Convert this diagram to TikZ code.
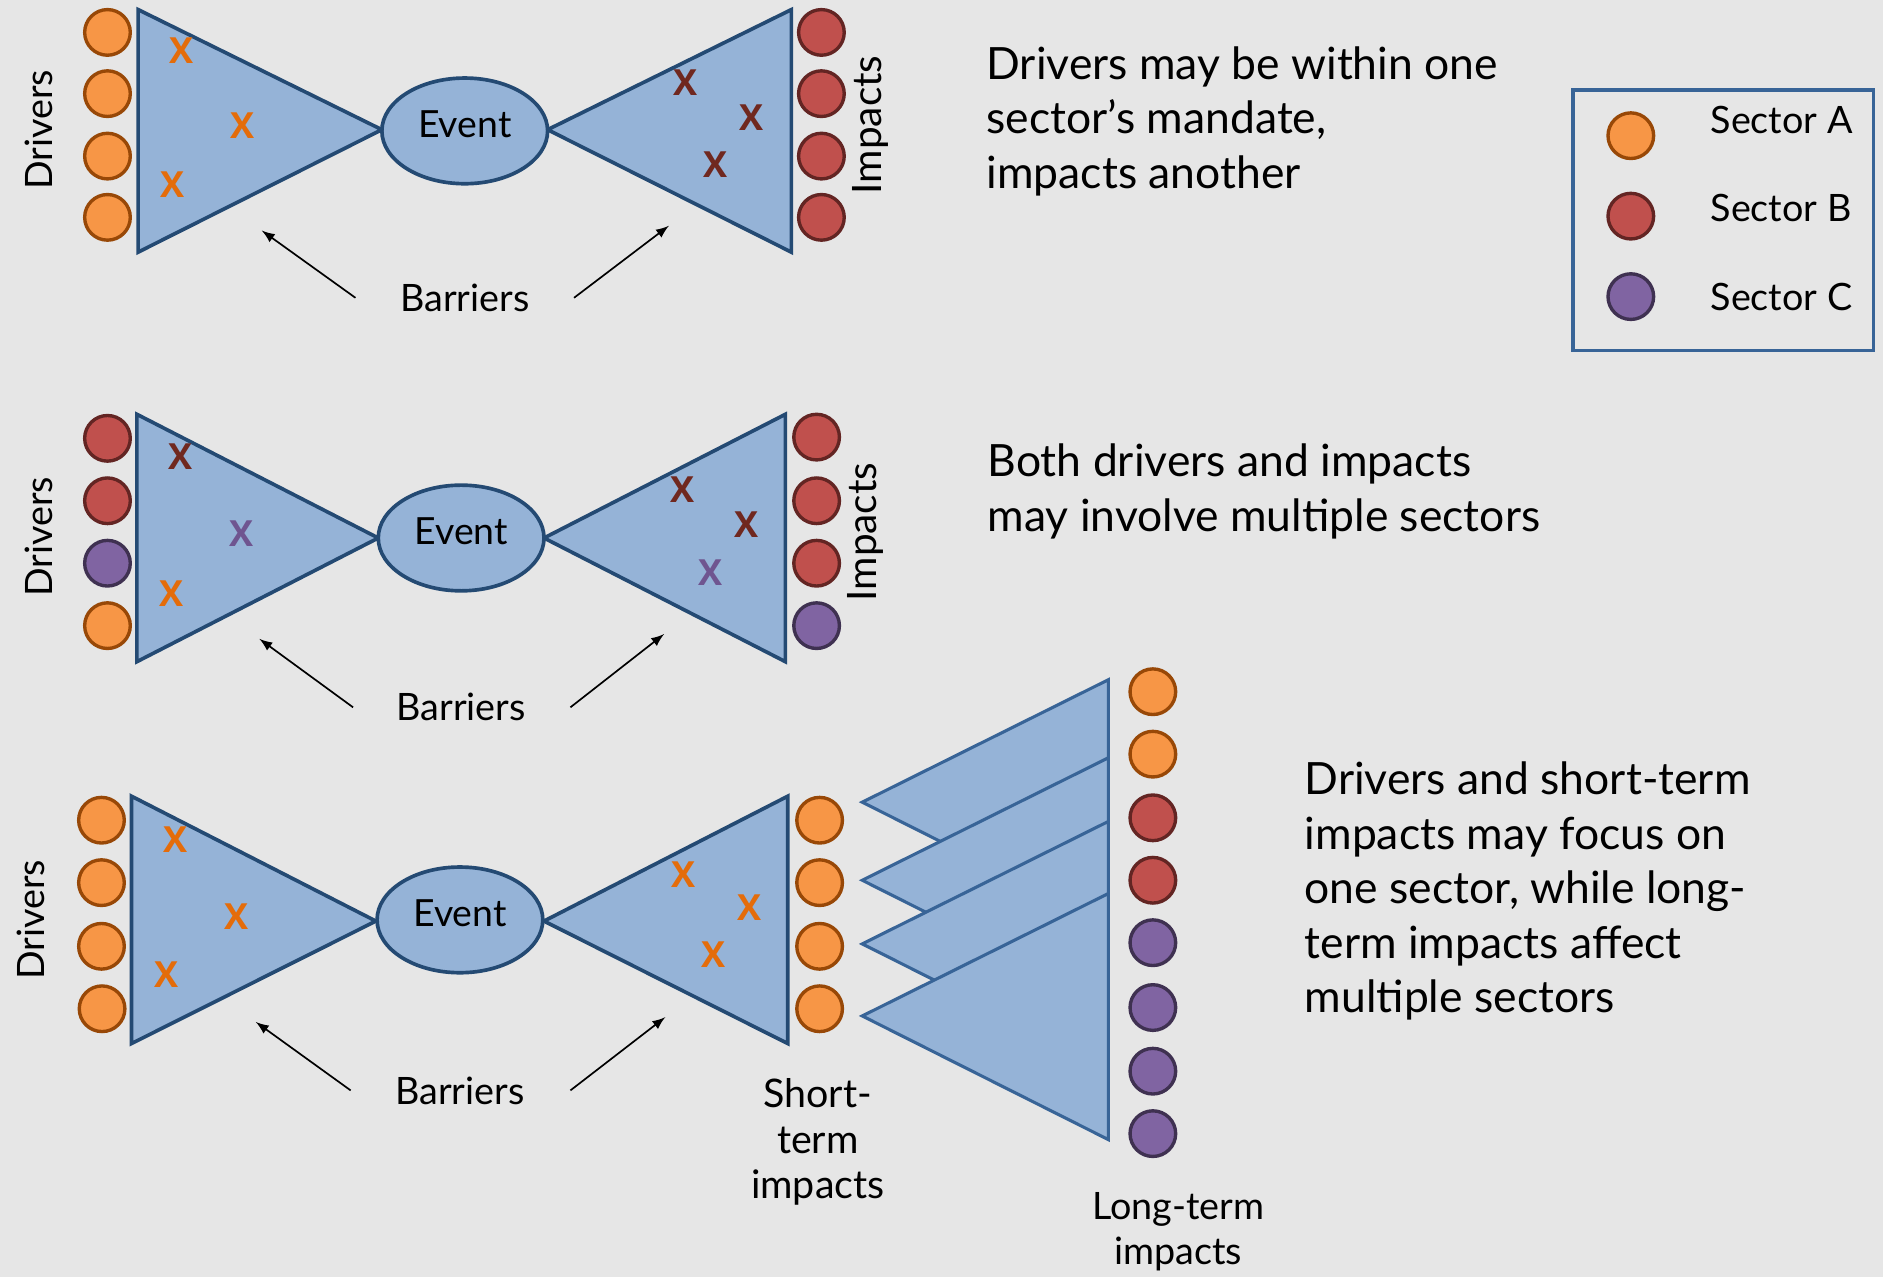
\documentclass[tikz,border=0pt]{standalone}
\usepackage{fontspec}
\setmainfont{Lato}
\newfontfamily\xfont{Open Sans}
\usetikzlibrary{shapes.geometric}
\definecolor{bgcol}{HTML}{E6E6E6}
\definecolor{wedgefill}{HTML}{95B3D7}
\definecolor{wedgeline}{HTML}{244A73}
\definecolor{longline}{HTML}{386497}
\definecolor{fillA}{HTML}{F79646}
\definecolor{lineA}{HTML}{984807}
\definecolor{fillB}{HTML}{C0504D}
\definecolor{lineB}{HTML}{632523}
\definecolor{fillC}{HTML}{8064A2}
\definecolor{lineC}{HTML}{3F3151}
\definecolor{markA}{HTML}{E46C0A}
\definecolor{markB}{HTML}{70281F}
\definecolor{markC}{HTML}{6F5590}
\tikzset{
  wedge/.style={draw=wedgeline, fill=wedgefill, line width=1.3pt, line join=miter},
  longwedge/.style={draw=longline, fill=wedgefill, line width=1.1pt, line join=miter},
  event/.style={ellipse, draw=wedgeline, fill=wedgefill, line width=1.3pt, minimum width=2.07cm, minimum height=1.32cm, inner sep=0pt, text depth=0.18cm, font=\fontsize{13.3}{15}\selectfont},
  dot/.style={circle, minimum size=0.57cm, inner sep=0pt, line width=1.2pt},
  dotA/.style={dot, draw=lineA, fill=fillA},
  dotB/.style={dot, draw=lineB, fill=fillB},
  dotC/.style={dot, draw=lineC, fill=fillC},
  xmark/.style={font=\xfont\fontsize{12.8}{15}\bfseries\selectfont, inner sep=0pt},
  label/.style={font=\fontsize{13.4}{16}\selectfont, inner sep=0pt},
  side/.style={label, rotate=90},
  note/.style={font=\fontsize{15.8}{19.4}\selectfont, align=left, anchor=west, inner sep=0pt},
  barrow/.style={-latex, line width=0.6pt, black},
}
\begin{document}
\begin{tikzpicture}[x=0.015cm, y=-0.015cm]
  \fill[bgcol] (0,0) rectangle (1568,1063);
  \useasboundingbox (0,0) rectangle (1568,1063);

  % first bow tie
  \draw[wedge] (115,8) -- (318,108) -- (115,210) -- cycle;
  \draw[wedge] (659,8) -- (456,108) -- (659,210) -- cycle;
  \node[event] (eventone) at (387,109) {Event};
  \node[dotA] (oned1) at (89.5,27) {};
  \node[dotA] (oned2) at (89.5,78) {};
  \node[dotA] (oned3) at (89.5,130) {};
  \node[dotA] (oned4) at (89.5,181) {};
  \node[dotB] (onei1) at (684,27) {};
  \node[dotB] (onei2) at (684,78) {};
  \node[dotB] (onei3) at (684,130) {};
  \node[dotB] (onei4) at (684,181) {};
  \node[side] (onedrivers) at (32,108) {Drivers};
  \node[side, font=\fontsize{14.4}{16}\selectfont] (oneimpacts) at (725,104) {Impacts};
  \node[xmark, markA] (onex1) at (151,42) {X};
  \node[xmark, markA] (onex2) at (202,105) {X};
  \node[xmark, markA] (onex3) at (144,154) {X};
  \node[xmark, markB] (onex4) at (571,69) {X};
  \node[xmark, markB] (onex5) at (626,98) {X};
  \node[xmark, markB] (onex6) at (596,137) {X};
  \node[label] (onebarriers) at (387,248) {Barriers};
  \coordinate (onea) at (296,248);
  \coordinate (oneb) at (218,192);
  \coordinate (onec) at (478,248);
  \coordinate (oned) at (557,188);
  \draw[barrow] (onea) -- (oneb);
  \draw[barrow] (onec) -- (oned);
  \node[note] (onetext) at (821,101) {Drivers may be within one\\sector’s mandate,\\impacts another};

  % legend
  \node[draw=longline, line width=1.3pt, minimum width=3.75cm, minimum height=3.255cm, inner sep=0pt] (legend) at (1435,183.5) {};
  \node[dotA] (lega) at (1358,113) {};
  \node[dotB] (legb) at (1358,180) {};
  \node[dotC] (legc) at (1358,247) {};
  \node[label, anchor=west] (legatext) at (1424,100) {Sector A};
  \node[label, anchor=west] (legbtext) at (1424,173) {Sector B};
  \node[label, anchor=west] (legctext) at (1424,247) {Sector C};

  % second bow tie
  \draw[wedge] (114,345) -- (315,448) -- (114,551) -- cycle;
  \draw[wedge] (654,345) -- (453,448) -- (654,551) -- cycle;
  \node[event] (eventtwo) at (384,448) {Event};
  \node[dotB] (twod1) at (89.5,365) {};
  \node[dotB] (twod2) at (89.5,417) {};
  \node[dotC] (twod3) at (89.5,469) {};
  \node[dotA] (twod4) at (89.5,521) {};
  \node[dotB] (twoi1) at (680,364) {};
  \node[dotB] (twoi2) at (680,417) {};
  \node[dotB] (twoi3) at (680,469) {};
  \node[dotC] (twoi4) at (680,521) {};
  \node[side] (twodrivers) at (32,447) {Drivers};
  \node[side, font=\fontsize{14.4}{16}\selectfont] (twoimpacts) at (721,443) {Impacts};
  \node[xmark, markB] (twox1) at (150,380) {X};
  \node[xmark, markC] (twox2) at (201,444) {X};
  \node[xmark, markA] (twox3) at (143,494) {X};
  \node[xmark, markB] (twox4) at (568,408) {X};
  \node[xmark, markB] (twox5) at (622,437) {X};
  \node[xmark, markC] (twox6) at (592,477) {X};
  \node[label] (twobarriers) at (384,589) {Barriers};
  \coordinate (twoa) at (294,589);
  \coordinate (twob) at (216,532);
  \coordinate (twoc) at (475,589);
  \coordinate (twod) at (553,528);
  \draw[barrow] (twoa) -- (twob);
  \draw[barrow] (twoc) -- (twod);
  \node[note] (twotext) at (822,409) {Both drivers and impacts\\may involve multiple sectors};

  % third bow tie
  \draw[wedge] (109.5,663) -- (313,767) -- (109.5,869) -- cycle;
  \draw[wedge] (656,663) -- (453,767) -- (656,869) -- cycle;
  \node[event] (eventthree) at (383,766) {Event};
  \node[dotA] (threed1) at (84.5,683) {};
  \node[dotA] (threed2) at (84.5,735) {};
  \node[dotA] (threed3) at (84.5,788) {};
  \node[dotA] (threed4) at (85,840) {};
  \node[dotA] (threei1) at (682.5,683) {};
  \node[dotA] (threei2) at (682.5,735) {};
  \node[dotA] (threei3) at (682.5,788) {};
  \node[dotA] (threei4) at (682.5,840) {};
  \node[side] (threedrivers) at (26,766) {Drivers};
  \node[xmark, markA] (threex1) at (146,699) {X};
  \node[xmark, markA] (threex2) at (197,763) {X};
  \node[xmark, markA] (threex3) at (139,812) {X};
  \node[xmark, markA] (threex4) at (569,728) {X};
  \node[xmark, markA] (threex5) at (624,756) {X};
  \node[xmark, markA] (threex6) at (594,795) {X};
  \node[label] (threebarriers) at (383,908) {Barriers};
  \coordinate (threea) at (292,908);
  \coordinate (threeb) at (213,851);
  \coordinate (threec) at (475,908);
  \coordinate (threed) at (554,847);
  \draw[barrow] (threea) -- (threeb);
  \draw[barrow] (threec) -- (threed);
  \node[label, align=center, font=\fontsize{14}{16.2}\selectfont] (shortlabel) at (681,951) {Short-\\term\\impacts};

  % long-term wedges, later ones sit on top
  \draw[longwedge] (923,566) -- (718,668) -- (923,771) -- cycle;
  \draw[longwedge] (923,631) -- (718,733) -- (923,836) -- cycle;
  \draw[longwedge] (923,684) -- (718,786) -- (923,889) -- cycle;
  \draw[longwedge] (923,744) -- (718,846) -- (923,949) -- cycle;
  \node[dotA] (longi1) at (960,576) {};
  \node[dotA] (longi2) at (960,628) {};
  \node[dotB] (longi3) at (960,681) {};
  \node[dotB] (longi4) at (960,733) {};
  \node[dotC] (longi5) at (960,785) {};
  \node[dotC] (longi6) at (960,839) {};
  \node[dotC] (longi7) at (960,892) {};
  \node[dotC] (longi8) at (960,944) {};
  \node[label, align=center, font=\fontsize{13.4}{16}\selectfont] (longlabel) at (981,1025.5) {Long-term\\impacts};
  \node[note] (threetext) at (1086,742) {Drivers and short-term\\impacts may focus on\\one sector, while long-\\term impacts affect\\multiple sectors};
\end{tikzpicture}
\end{document}
